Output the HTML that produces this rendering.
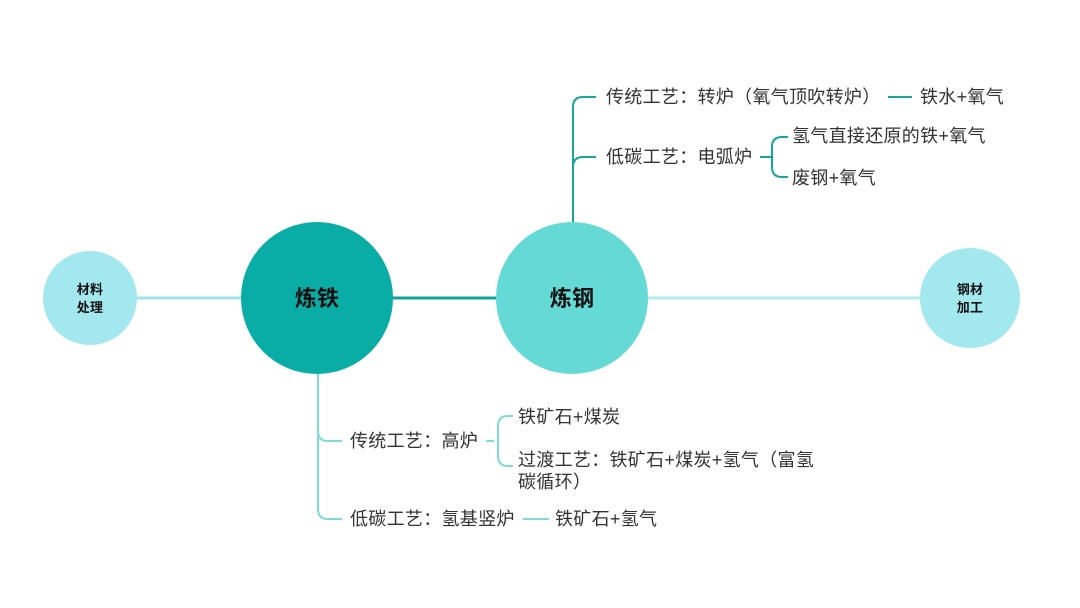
<!DOCTYPE html>
<html><head><meta charset="utf-8"><style>
html,body{margin:0;padding:0;background:#fff;}
svg{display:block;}
text{font-family:"Liberation Sans","Noto Sans CJK SC",sans-serif;font-size:18px;letter-spacing:0.3px;fill:#333;}
</style></head><body>
<svg width="1080" height="608" viewBox="0 0 1080 608">
<line x1="130" y1="298" x2="245" y2="298" stroke="#9fe3e8" stroke-width="3"/>
<line x1="390" y1="298" x2="500" y2="298" stroke="#14a39c" stroke-width="3"/>
<line x1="645" y1="298" x2="925" y2="298" stroke="#b5ecef" stroke-width="3"/>
<g fill="none" stroke="#18a59e" stroke-width="2">
<path d="M573 222 V107 Q573 97 583 97 H596"/>
<path d="M573 167 Q573 157 583 157 H596"/>
<line x1="888" y1="97" x2="912" y2="97"/>
<path d="M760 157 H768 M782 137 Q772 137 772 147 V167 Q772 177 782 177 M772 157 H768"/>
<path d="M782 137 H788 M782 177 H788"/>
</g>
<text x="606" y="103">传统工艺：转炉（氧气顶吹转炉）</text>
<text x="920" y="103">铁水+氧气</text>
<text x="606" y="163">低碳工艺：电弧炉</text>
<text x="792" y="142">氢气直接还原的铁+氧气</text>
<text x="792" y="184">废钢+氧气</text>
<g fill="none" stroke="#7fdbd9" stroke-width="2">
<path d="M318 374 V509 Q318 519 328 519 H342"/>
<path d="M318 431 Q318 441 328 441 H342"/>
<path d="M486 441 H494 M508 416 Q498 416 498 426 V456 Q498 466 508 466"/>
<path d="M508 416 H513 M508 466 H513"/>
<line x1="523" y1="519" x2="549" y2="519"/>
</g>
<text x="350" y="447">传统工艺：高炉</text>
<text x="518" y="423">铁矿石+煤炭</text>
<text x="518" y="466">过渡工艺：铁矿石+煤炭+氢气（富氢</text>
<text x="518" y="488">碳循环）</text>
<text x="350" y="525">低碳工艺：氢基竖炉</text>
<text x="555" y="525">铁矿石+氢气</text>
<circle cx="90" cy="298" r="47" fill="#a3e8ee"/>
<circle cx="317" cy="298" r="76" fill="#0aada6"/>
<circle cx="572" cy="298" r="76" fill="#65d9d5"/>
<circle cx="970" cy="298" r="50" fill="#a3e8ee"/>
<text x="90" y="294" text-anchor="middle" style="font-size:13px;font-weight:bold;fill:#111">材料</text>
<text x="90" y="312" text-anchor="middle" style="font-size:13px;font-weight:bold;fill:#111">处理</text>
<text x="970" y="294" text-anchor="middle" style="font-size:13px;font-weight:bold;fill:#111">钢材</text>
<text x="970" y="312" text-anchor="middle" style="font-size:13px;font-weight:bold;fill:#111">加工</text>
<text x="317" y="306" text-anchor="middle" style="font-size:22px;font-weight:bold;fill:#111">炼铁</text>
<text x="572" y="306" text-anchor="middle" style="font-size:22px;font-weight:bold;fill:#111">炼钢</text>
</svg>
</body></html>
